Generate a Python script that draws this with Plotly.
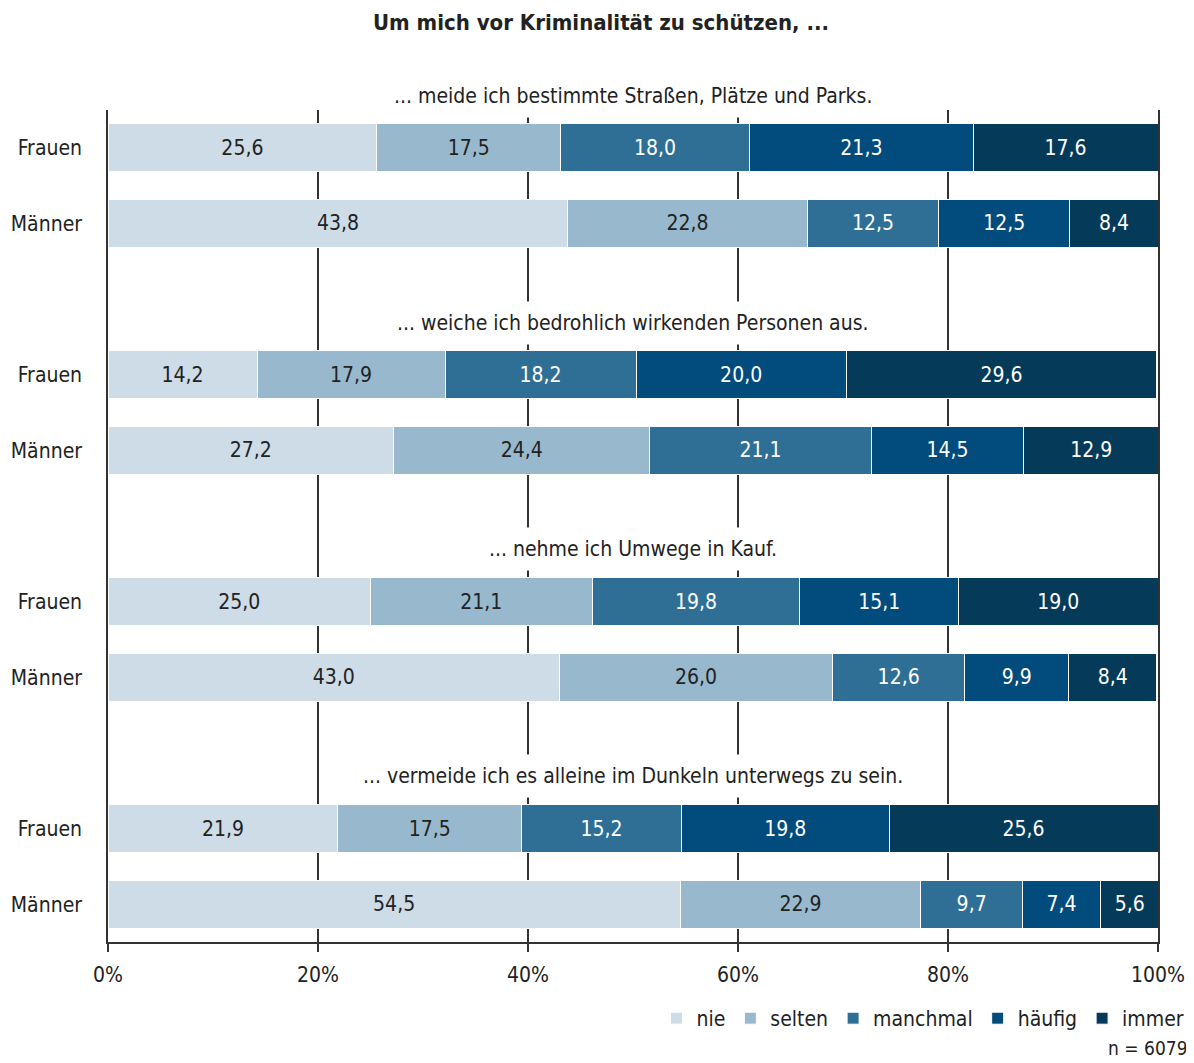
import plotly.graph_objects as go

categories = ["nie", "selten", "manchmal", "häufig", "immer"]
groups = [
    "... meide ich bestimmte Straßen, Plätze und Parks.",
    "... weiche ich bedrohlich wirkenden Personen aus.",
    "... nehme ich Umwege in Kauf.",
    "... vermeide ich es alleine im Dunkeln unterwegs zu sein.",
]
row_labels = ["Frauen", "Männer"] * 4
row_pos = [0, 1, 3, 4, 6, 7, 9, 10]

# values per category, rows in order: G1 F, G1 M, G2 F, G2 M, G3 F, G3 M, G4 F, G4 M
nie      = [25.6, 43.8, 14.2, 27.2, 25.0, 43.0, 21.9, 54.5]
selten   = [17.5, 22.8, 17.9, 24.4, 21.1, 26.0, 17.5, 22.9]
manchmal = [18.0, 12.5, 18.2, 21.1, 19.8, 12.6, 15.2, 9.7]
haeufig  = [21.3, 12.5, 20.0, 14.5, 15.1, 9.9, 19.8, 7.4]
immer    = [17.6, 8.4, 29.6, 12.9, 19.0, 8.4, 25.6, 5.6]
series = [nie, selten, manchmal, haeufig, immer]

x_ticks = [0, 20, 40, 60, 80, 100]
x_ticktext = ["0%", "20%", "40%", "60%", "80%", "100%"]

colors = ["#cddce6", "#98b9cd", "#2f6f96", "#014c7d", "#063a59"]
text_colors = ["#222222", "#222222", "#ffffff", "#ffffff", "#ffffff"]

FONT = "Liberation Sans Narrow, DejaVu Sans Condensed, Arial Narrow, sans-serif"
Y_RANGE = [10.5, -0.5]

# the page body has an 8px margin; the figure is sized to fit the window
W, H = 1186, 1055

fig = go.Figure()
for name, vals, col, tcol in zip(categories, series, colors, text_colors):
    fig.add_trace(go.Bar(
        name=name, orientation="h", x=vals, y=row_pos, width=0.634,
        marker=dict(color=col, line=dict(color="white", width=1)),
        text=[f"{v:.1f}".replace(".", ",") for v in vals],
        textposition="inside", insidetextanchor="middle", textangle=0,
        textfont=dict(color=tcol, size=21, family=FONT),
        hoverinfo="skip",
    ))

def y_to_paper(y):
    return (Y_RANGE[0] - y) / (Y_RANGE[0] - Y_RANGE[1])

annotations = []
for g, label in enumerate(groups):
    annotations.append(dict(
        x=50, y=y_to_paper(row_pos[2 * g] - 0.69), xref="x", yref="paper",
        text=label, showarrow=False,
        font=dict(size=21, color="#222222", family=FONT),
        bgcolor="white", borderpad=9, xanchor="center", yanchor="middle",
    ))
annotations.append(dict(
    x=1.03, y=-0.127, xref="paper", yref="paper", text="n = 6079",
    showarrow=False, xanchor="right", yanchor="middle",
    font=dict(size=19, color="#222222", family=FONT),
))

fig.update_layout(
    barmode="stack",
    width=W, height=H,
    paper_bgcolor="white", plot_bgcolor="white",
    margin=dict(l=100, r=36, t=102, b=121, autoexpand=False),
    font=dict(family=FONT, color="#222222", size=21),
    title=dict(text="<b>Um mich vor Kriminalität zu schützen, ...</b>",
               x=0.5, xanchor="center", y=1 - 14 / H, yanchor="middle",
               font=dict(size=22, color="#222222", family=FONT)),
    legend=dict(orientation="h", x=1.03, xanchor="right", y=-0.092, yanchor="middle",
                font=dict(size=21, family=FONT), traceorder="normal",
                itemwidth=30, itemclick=False, tracegroupgap=0),
    annotations=annotations,
    showlegend=True,
)
fig.update_xaxes(
    range=[0, 100], tickvals=x_ticks, ticktext=x_ticktext,
    showgrid=True, gridcolor="#333333", gridwidth=1.5,
    ticks="outside", ticklen=8, tickcolor="#333333", tickwidth=1.5,
    showline=True, linecolor="#333333", linewidth=1.5, ticklabelstandoff=5,
    zeroline=False, tickfont=dict(size=21, family=FONT), automargin=False,
)
fig.update_yaxes(
    range=Y_RANGE, tickvals=row_pos, ticktext=row_labels,
    showgrid=False, zeroline=False, showline=True, mirror=True,
    linecolor="#333333", linewidth=1.5, ticks="",
    ticklabelstandoff=20, tickfont=dict(size=21, family=FONT), automargin=False,
)

fig.write_html("out.html")
